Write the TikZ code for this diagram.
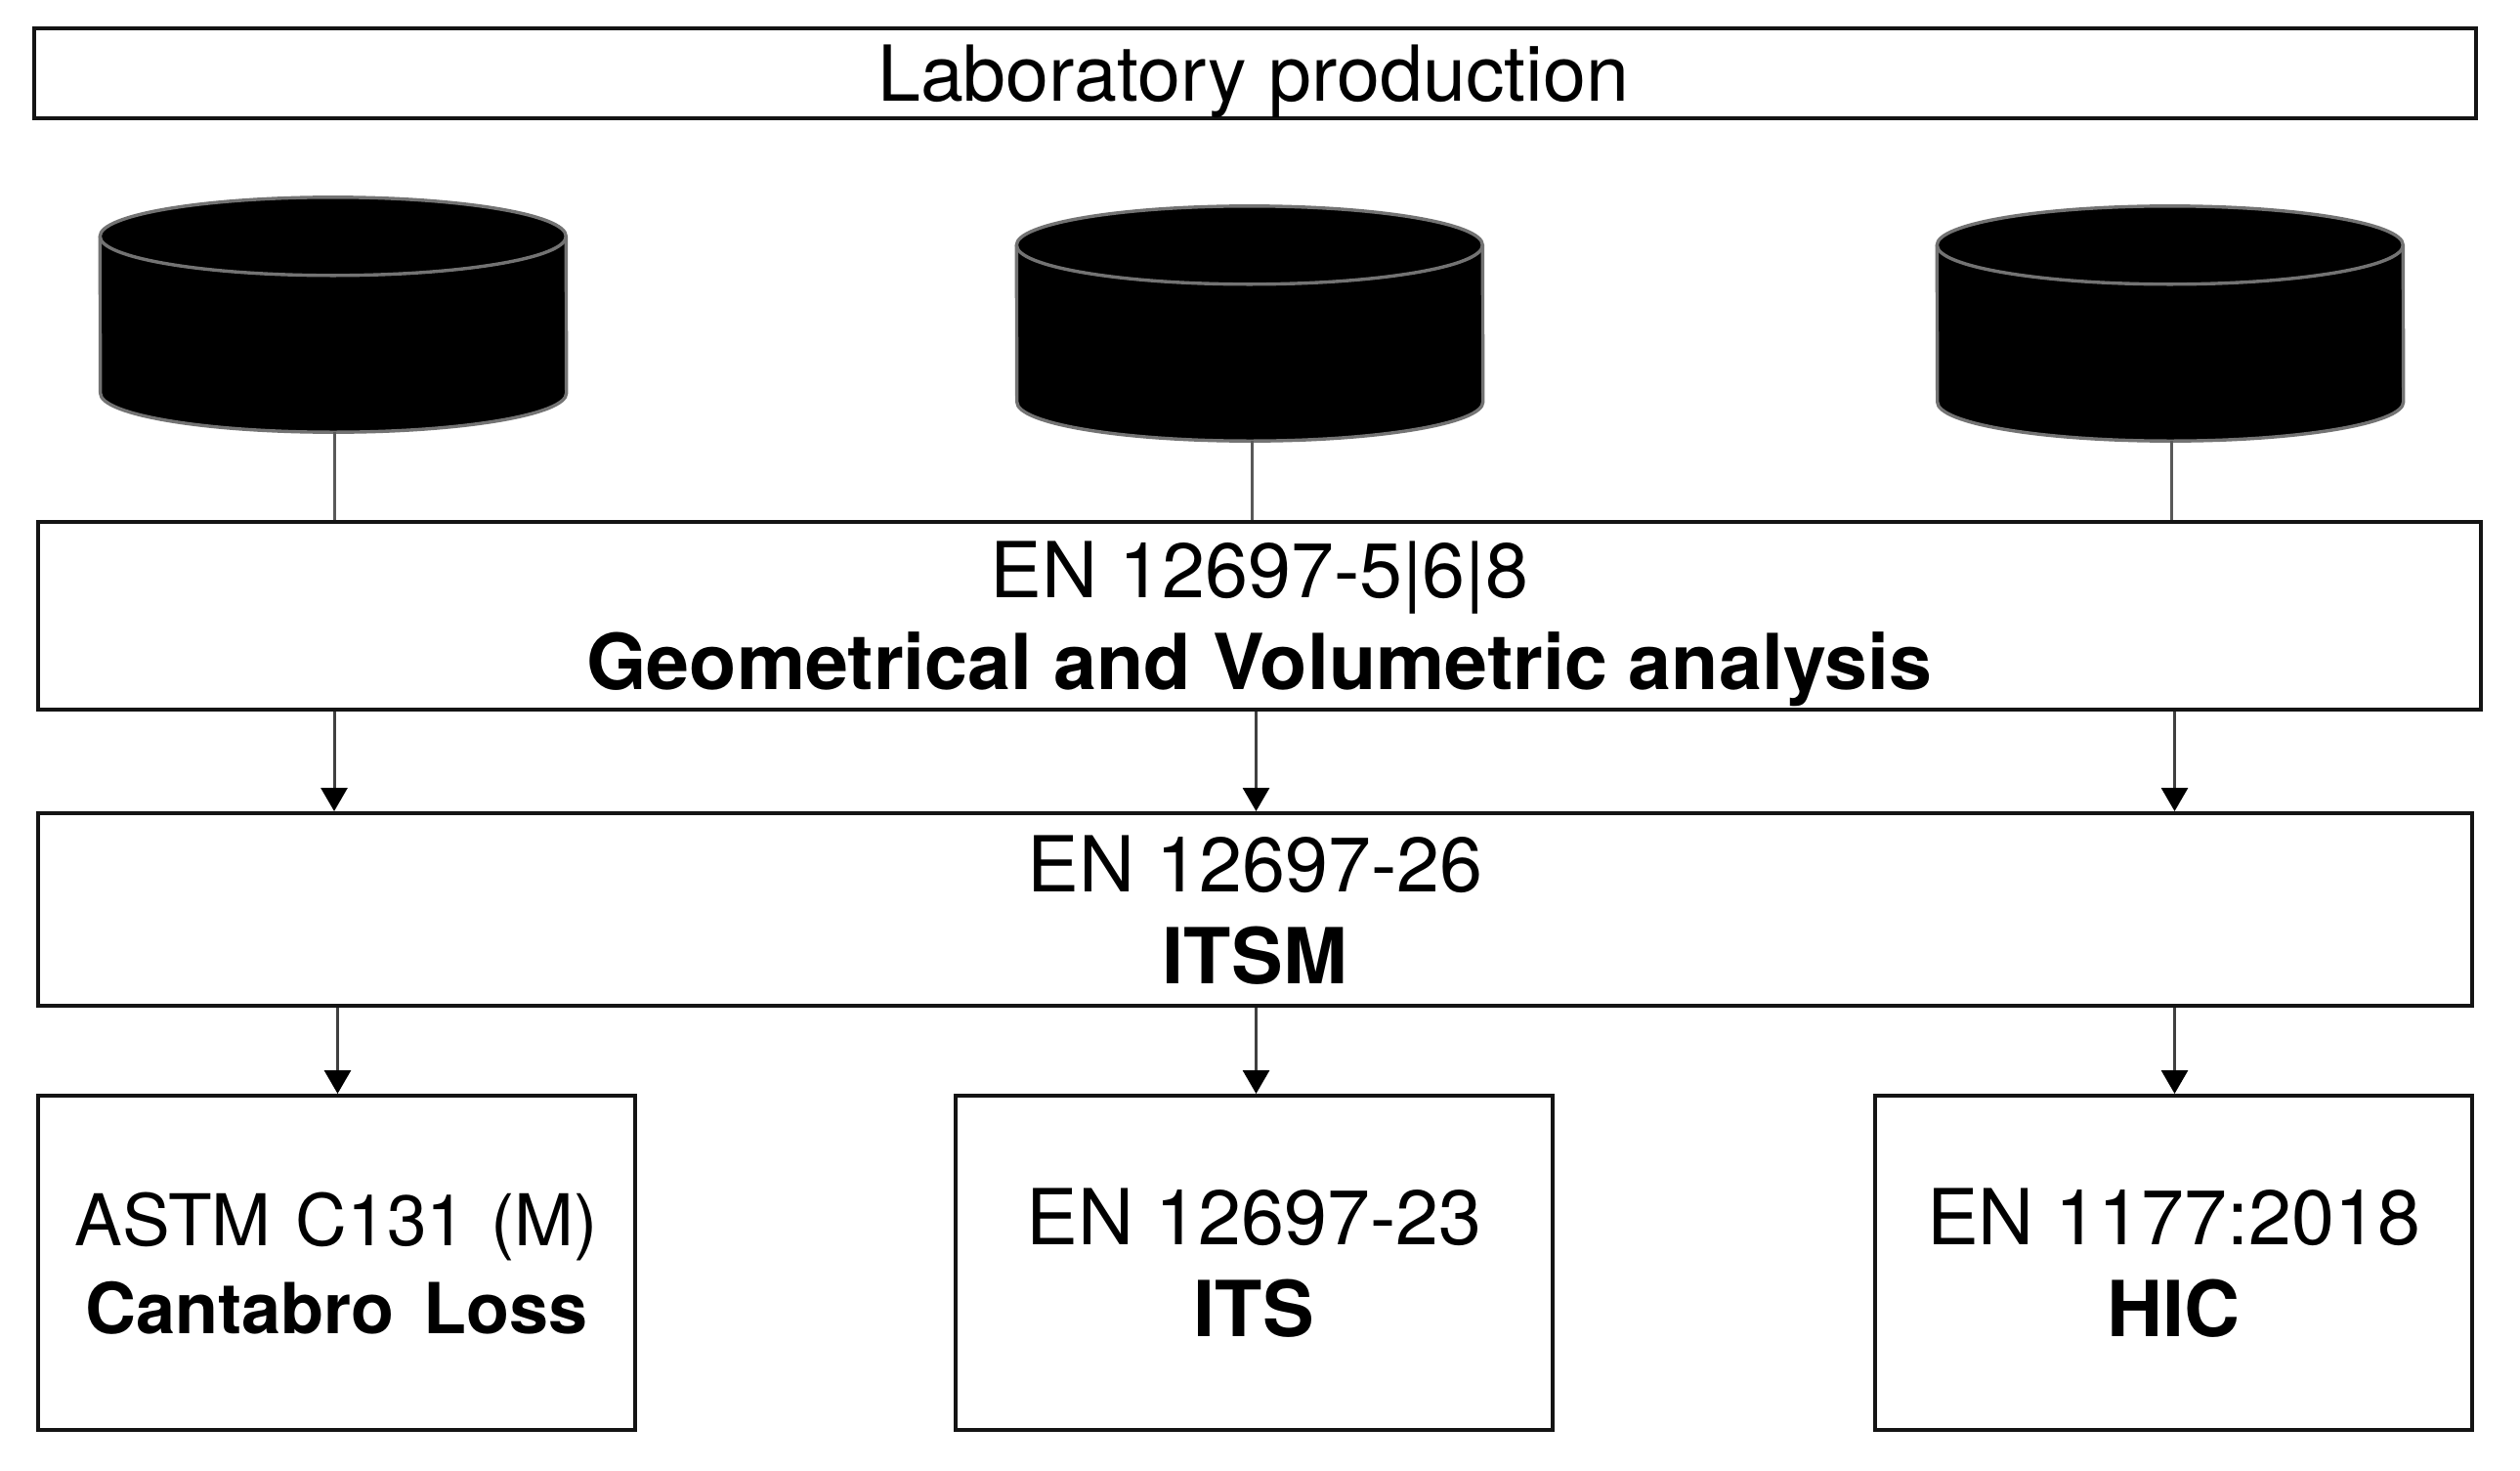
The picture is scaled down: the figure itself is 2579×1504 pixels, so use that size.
\documentclass[tikz,border=0pt]{standalone}
\usepackage{fontspec}
\setmainfont{TeX Gyre Heros}
\usetikzlibrary{arrows.meta}
\tikzset{
  boxnode/.style={draw=black!92,line width=4pt,fill=white,inner sep=0pt,align=center,anchor=north west,text depth=0pt,font=\fontsize{79}{94}\selectfont},
  discframe/.style={inner sep=0pt,minimum width=477pt,minimum height=240pt},
  discbody/.style={draw=black!55,line width=3.4pt,fill=black},
  discrim/.style={draw=black!55,line width=3.4pt},
  link/.style={draw=black!65,line width=3pt},
  flow/.style={draw=black!75,line width=3pt,-{Triangle[length=24pt,width=27pt,color=black]}}
}
\newcommand{\bfl}[1]{\textbf{#1}}
\newcommand{\discshape}[1]{%
  \draw[discbody] ([yshift=-40pt]#1.north west) arc[start angle=180,end angle=0,x radius=238.5pt,y radius=40pt]
    -- ([yshift=40pt]#1.south east) arc[start angle=0,end angle=-180,x radius=238.5pt,y radius=40pt] -- cycle;
  \draw[discrim] ([yshift=-40pt]#1.north west) arc[start angle=180,end angle=360,x radius=238.5pt,y radius=40pt];
}
\begin{document}
\begin{tikzpicture}[x=1pt,y=-1pt]
\useasboundingbox[fill=white] (0,0) rectangle (2579,1504);
\node[boxnode,minimum width=2499pt,minimum height=92pt] (lab) at (33,27) {\hspace{-4pt}Laboratory production};
\node[discframe] (c1) at (341,322) {};
\node[discframe] (c2) at (1279,331) {};
\node[discframe] (c3) at (2221,331) {};
\discshape{c1}\discshape{c2}\discshape{c3}
\node[boxnode,minimum width=2500pt,minimum height=192pt] (geo) at (37,532) {EN 12697-5|6|8\\\bfl{Geometrical and Volumetric analysis}};
\node[boxnode,minimum width=2491pt,minimum height=197pt] (itsm) at (37,830) {EN 12697-26\\\bfl{ITSM}};
\node[boxnode,minimum width=611pt,minimum height=342pt,font=\fontsize{73}{90}\selectfont] (cl) at (37,1119) {ASTM\hspace{5pt} C131\hspace{5pt} (M)\hspace{3pt}\\\fontsize{72}{90}\selectfont\bfl{Cantabro\hspace{10pt} Loss}};
\node[boxnode,minimum width=611pt,minimum height=342pt] (its) at (976,1119) {EN 12697-23\\\bfl{ITS}};
\node[boxnode,minimum width=611pt,minimum height=342pt] (hic) at (1917,1119) {EN 1177:2018\\\bfl{HIC}};
\draw[link] ([xshift=1pt]c1.south) -- ([xshift=1pt]c1.south |- geo.north);
\draw[link] ([xshift=2pt]c2.south) -- ([xshift=2pt]c2.south |- geo.north);
\draw[link] ([xshift=1pt]c3.south) -- ([xshift=1pt]c3.south |- geo.north);
\draw[flow] ([xshift=1pt]c1.south |- geo.south) -- ([xshift=1pt]c1.south |- itsm.north);
\draw[flow] ([xshift=2pt]its.north |- geo.south) -- ([xshift=2pt]its.north |- itsm.north);
\draw[flow] ([xshift=1pt]hic.north |- geo.south) -- ([xshift=1pt]hic.north |- itsm.north);
\draw[flow] ([xshift=1pt]cl.north |- itsm.south) -- ([xshift=1pt]cl.north);
\draw[flow] ([xshift=2pt]its.north |- itsm.south) -- ([xshift=2pt]its.north);
\draw[flow] ([xshift=1pt]hic.north |- itsm.south) -- ([xshift=1pt]hic.north);
\end{tikzpicture}
\end{document}
